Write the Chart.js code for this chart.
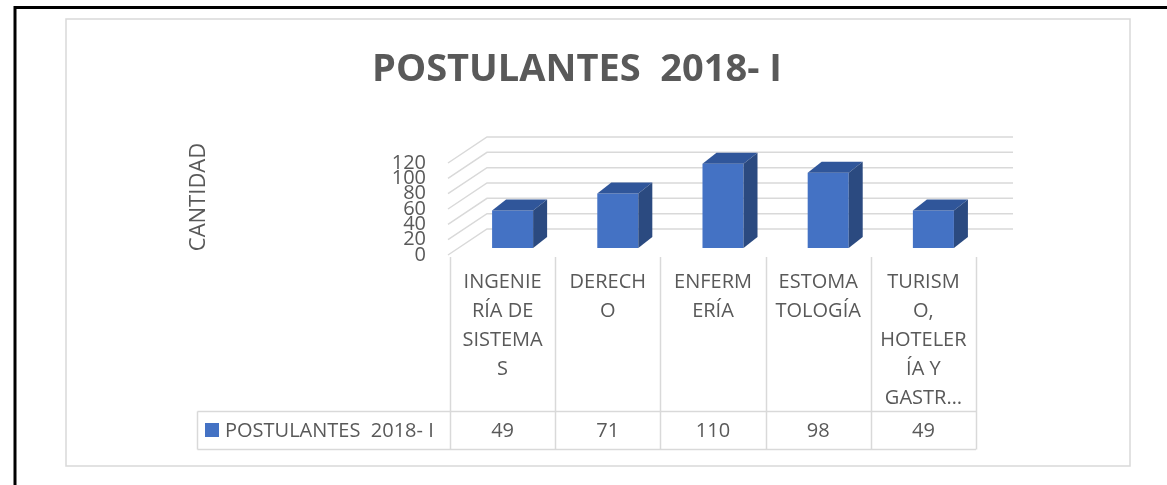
<!DOCTYPE html>
<html>
<head>
<meta charset="utf-8">
<script src="https://cdn.jsdelivr.net/npm/chart.js@4.4.0/dist/chart.umd.min.js"></script>
<style>
  body { margin: 0; background: #fff; }
  canvas { display: block; }
</style>
</head>
<body>
<canvas id="postulantesChart" width="1167" height="485"></canvas>
<script>
var chartTitle = "POSTULANTES  2018- I";
var seriesName = "POSTULANTES  2018- I";
var axisTitle = "CANTIDAD";
var categorias = [
  ["INGENIE", "RÍA DE", "SISTEMA", "S"],
  ["DERECH", "O"],
  ["ENFERM", "ERÍA"],
  ["ESTOMA", "TOLOGÍA"],
  ["TURISM", "O,", "HOTELER", "ÍA Y", "GASTR…"]
];
var postulantes = [49, 71, 110, 98, 49];
var yTicks = [0, 20, 40, 60, 80, 100, 120];

var textGray = "#595959";
var lineGray = "#D9D9D9";
var barFront = "#4472C4";
var barTop = "#30569A";
var barSide = "#2B4A80";

// 3d depth of the plot (back wall) and of the bars
var wallDx = 37, wallDy = -26;
var barShiftX = 10, barShiftY = -7;
var barDx = 14, barDy = -11;

var fake3d = {
  id: "fake3d",
  beforeDraw: function(chart) {
    var ctx = chart.ctx;
    var area = chart.chartArea;
    var y = chart.scales.y;
    ctx.save();
    // page frame
    ctx.strokeStyle = "#000";
    ctx.lineWidth = 3;
    ctx.beginPath();
    ctx.moveTo(15, 485);
    ctx.lineTo(15, 7.5);
    ctx.lineTo(1167, 7.5);
    ctx.stroke();
    ctx.strokeStyle = lineGray;
    ctx.lineWidth = 1.5;
    ctx.strokeRect(66, 19, 1064, 447);

    // walls grid
    ctx.strokeStyle = lineGray;
    ctx.lineWidth = 1.5;
    yTicks.forEach(function(v) {
      var py = y.getPixelForValue(v);
      ctx.beginPath();
      ctx.moveTo(area.left - 2, py);
      ctx.lineTo(area.left + wallDx, py + wallDy);
      ctx.lineTo(area.right + wallDx, py + wallDy);
      ctx.stroke();
    });

    // title
    ctx.fillStyle = textGray;
    ctx.font = "bold 38px 'Open Sans'";
    ctx.textAlign = "center";
    ctx.textBaseline = "middle";
    ctx.fillText(chartTitle, 577, 70);

    // axis title
    ctx.font = "22px 'Open Sans'";
    ctx.translate(199, 197);
    ctx.rotate(-Math.PI / 2);
    ctx.fillText(axisTitle, 0, 0);
    ctx.restore();
  },
  beforeDatasetsDraw: function(chart) {
    chart.ctx.save();
    chart.ctx.translate(barShiftX, barShiftY);
  },
  afterDatasetsDraw: function(chart) {
    var ctx = chart.ctx;
    chart.getDatasetMeta(0).data.forEach(function(bar) {
      var p = bar.getProps(["x", "y", "base", "width"], true);
      var l = p.x - p.width / 2, r = p.x + p.width / 2;
      ctx.fillStyle = barTop;
      ctx.beginPath();
      ctx.moveTo(l, p.y);
      ctx.lineTo(r, p.y);
      ctx.lineTo(r + barDx, p.y + barDy);
      ctx.lineTo(l + barDx, p.y + barDy);
      ctx.closePath();
      ctx.fill();
      ctx.fillStyle = barSide;
      ctx.beginPath();
      ctx.moveTo(r, p.y);
      ctx.lineTo(r + barDx, p.y + barDy);
      ctx.lineTo(r + barDx, p.base + barDy);
      ctx.lineTo(r, p.base);
      ctx.closePath();
      ctx.fill();
    });
    ctx.restore();
  },
  afterDraw: function(chart) {
    // data table under the plot
    var ctx = chart.ctx;
    var x = chart.scales.x;
    var cw = x.width / categorias.length;
    var top = 257, mid = 411.5, bottom = 449.5, tableLeft = 197.5;
    ctx.save();
    ctx.strokeStyle = lineGray;
    ctx.lineWidth = 1.5;
    ctx.beginPath();
    for (var i = 0; i <= categorias.length; i++) {
      var bx = Math.round(x.getPixelForValue(0) - cw / 2 + i * cw) + 0.5;
      ctx.moveTo(bx, top);
      ctx.lineTo(bx, bottom);
    }
    var tableRight = x.right;
    ctx.moveTo(tableLeft, mid);
    ctx.lineTo(tableRight, mid);
    ctx.moveTo(tableLeft, bottom);
    ctx.lineTo(tableRight, bottom);
    ctx.moveTo(tableLeft, mid);
    ctx.lineTo(tableLeft, bottom);
    ctx.stroke();

    ctx.fillStyle = textGray;
    ctx.font = "20px 'Open Sans'";
    ctx.textAlign = "center";
    ctx.textBaseline = "middle";
    categorias.forEach(function(lines, i) {
      var cx = x.getPixelForValue(i);
      lines.forEach(function(t, k) {
        ctx.fillText(t, cx, 282 + k * 29);
      });
      ctx.fillText(String(postulantes[i]), cx, 431);
    });

    ctx.fillStyle = barFront;
    ctx.fillRect(205, 423, 14, 14);
    ctx.fillStyle = textGray;
    ctx.textAlign = "left";
    ctx.fillText(seriesName, 225, 431);
    ctx.restore();
  }
};

new Chart(document.getElementById("postulantesChart"), {
  type: "bar",
  data: {
    labels: categorias,
    datasets: [{
      label: seriesName,
      data: postulantes,
      backgroundColor: barFront,
      borderWidth: 0,
      barPercentage: 0.39,
      categoryPercentage: 1
    }]
  },
  options: {
    responsive: false,
    animation: false,
    devicePixelRatio: 1,
    layout: { padding: { left: 300, right: 191, top: 163, bottom: 230 } },
    plugins: {
      legend: { display: false },
      tooltip: { enabled: false }
    },
    scales: {
      x: { display: false },
      y: {
        min: 0,
        max: 120,
        afterFit: function(s) { s.width = 150; },
        afterBuildTicks: function(s) {
          s.ticks = yTicks.map(function(v) { return { value: v }; });
        },
        grid: { display: false, drawTicks: false },
        border: { display: false },
        ticks: {
          autoSkip: false,
          padding: 24,
          color: textGray,
          font: { family: "'Open Sans'", size: 20 }
        }
      }
    }
  },
  plugins: [fake3d]
});
</script>
</body>
</html>
